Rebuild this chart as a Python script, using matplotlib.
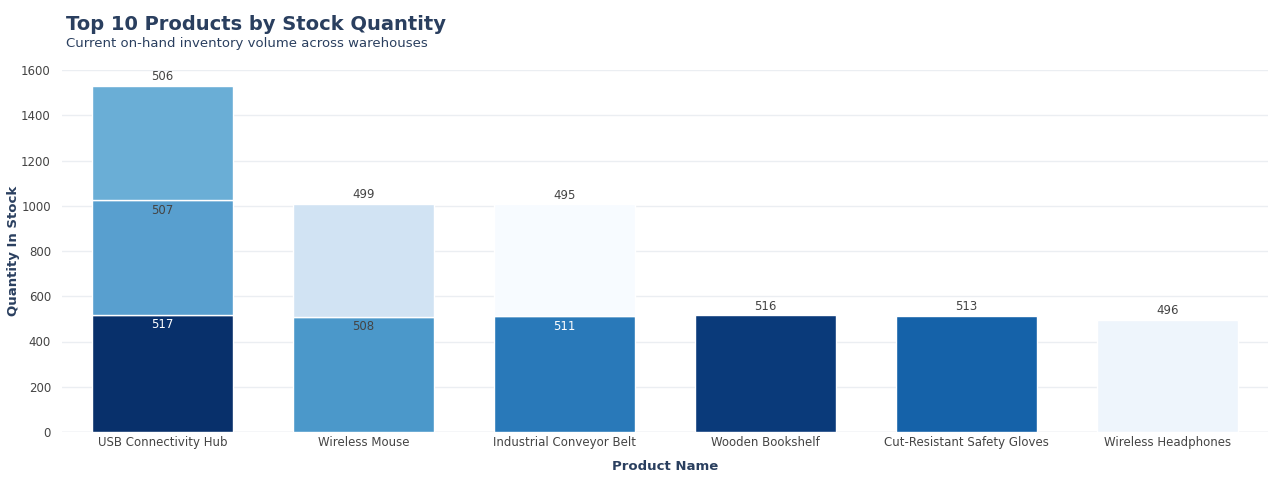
import matplotlib
matplotlib.use("Agg")
import matplotlib.pyplot as plt

products = ["USB Connectivity Hub", "Wireless Mouse", "Industrial Conveyor Belt",
            "Wooden Bookshelf", "Cut-Resistant Safety Gloves", "Wireless Headphones"]
# stacked segments per product (bottom -> top)
segments = [[517, 507, 506], [508, 499], [511, 495], [516], [513], [496]]
colors = [["#08306b", "#589fcf", "#6aaed6"], ["#4b98ca", "#d1e3f3"],
          ["#2979b9", "#f7fbff"], ["#0a3a7a"], ["#1562a9"], ["#eef5fc"]]

fig = plt.figure(figsize=(12.8, 4.82), dpi=100)
ax = fig.add_axes([62/1280, 1-432/482, (1268-62)/1280, (432-70)/482])

TXT = "#2a3f5f"
for i, (segs, cols) in enumerate(zip(segments, colors)):
    bottom = 0
    for j, (v, c) in enumerate(zip(segs, cols)):
        ax.bar(i, v, bottom=bottom, width=0.7, color=c, edgecolor="white", linewidth=1, zorder=2)
        top = bottom + v
        if j == len(segs) - 1:
            ax.text(i, top + 12, str(v), ha="center", va="bottom", fontsize=8.5, color="#444444")
        else:
            dark = c in ("#08306b", "#2979b9", "#0a3a7a", "#1562a9")
            ax.text(i, top - 15, str(v), ha="center", va="top", fontsize=8.5,
                    color="white" if dark else "#444444")
        bottom = top

ax.set_xlim(-0.5, len(products) - 0.5)
ax.set_ylim(0, 1600)
ax.set_yticks(range(0, 1601, 200))
ax.set_xticks(range(len(products)))
ax.set_xticklabels(products)
ax.tick_params(length=0, labelsize=8.5, colors="#444444", pad=3)
ax.tick_params(axis="y", pad=8)
ax.grid(axis="y", color="#ebeef2", linewidth=1, zorder=0)
for s in ax.spines.values():
    s.set_visible(False)
ax.axhline(0, color="#e0e4ea", linewidth=1, zorder=1)
ax.set_xlabel("Product Name", fontsize=9.5, fontweight="bold", color=TXT, labelpad=8)
ax.set_ylabel("Quantity In Stock", fontsize=9.5, fontweight="bold", color=TXT, labelpad=4)
ax.yaxis.set_label_coords(-42/1206, 0.5)

fig.text(66/1280, 1-24/482, "Top 10 Products by Stock Quantity", fontsize=14,
         fontweight="bold", color=TXT, va="center")
fig.text(66/1280, 1-43/482, "Current on-hand inventory volume across warehouses",
         fontsize=9.5, color=TXT, va="center")

fig.savefig("out.png", dpi=100)
